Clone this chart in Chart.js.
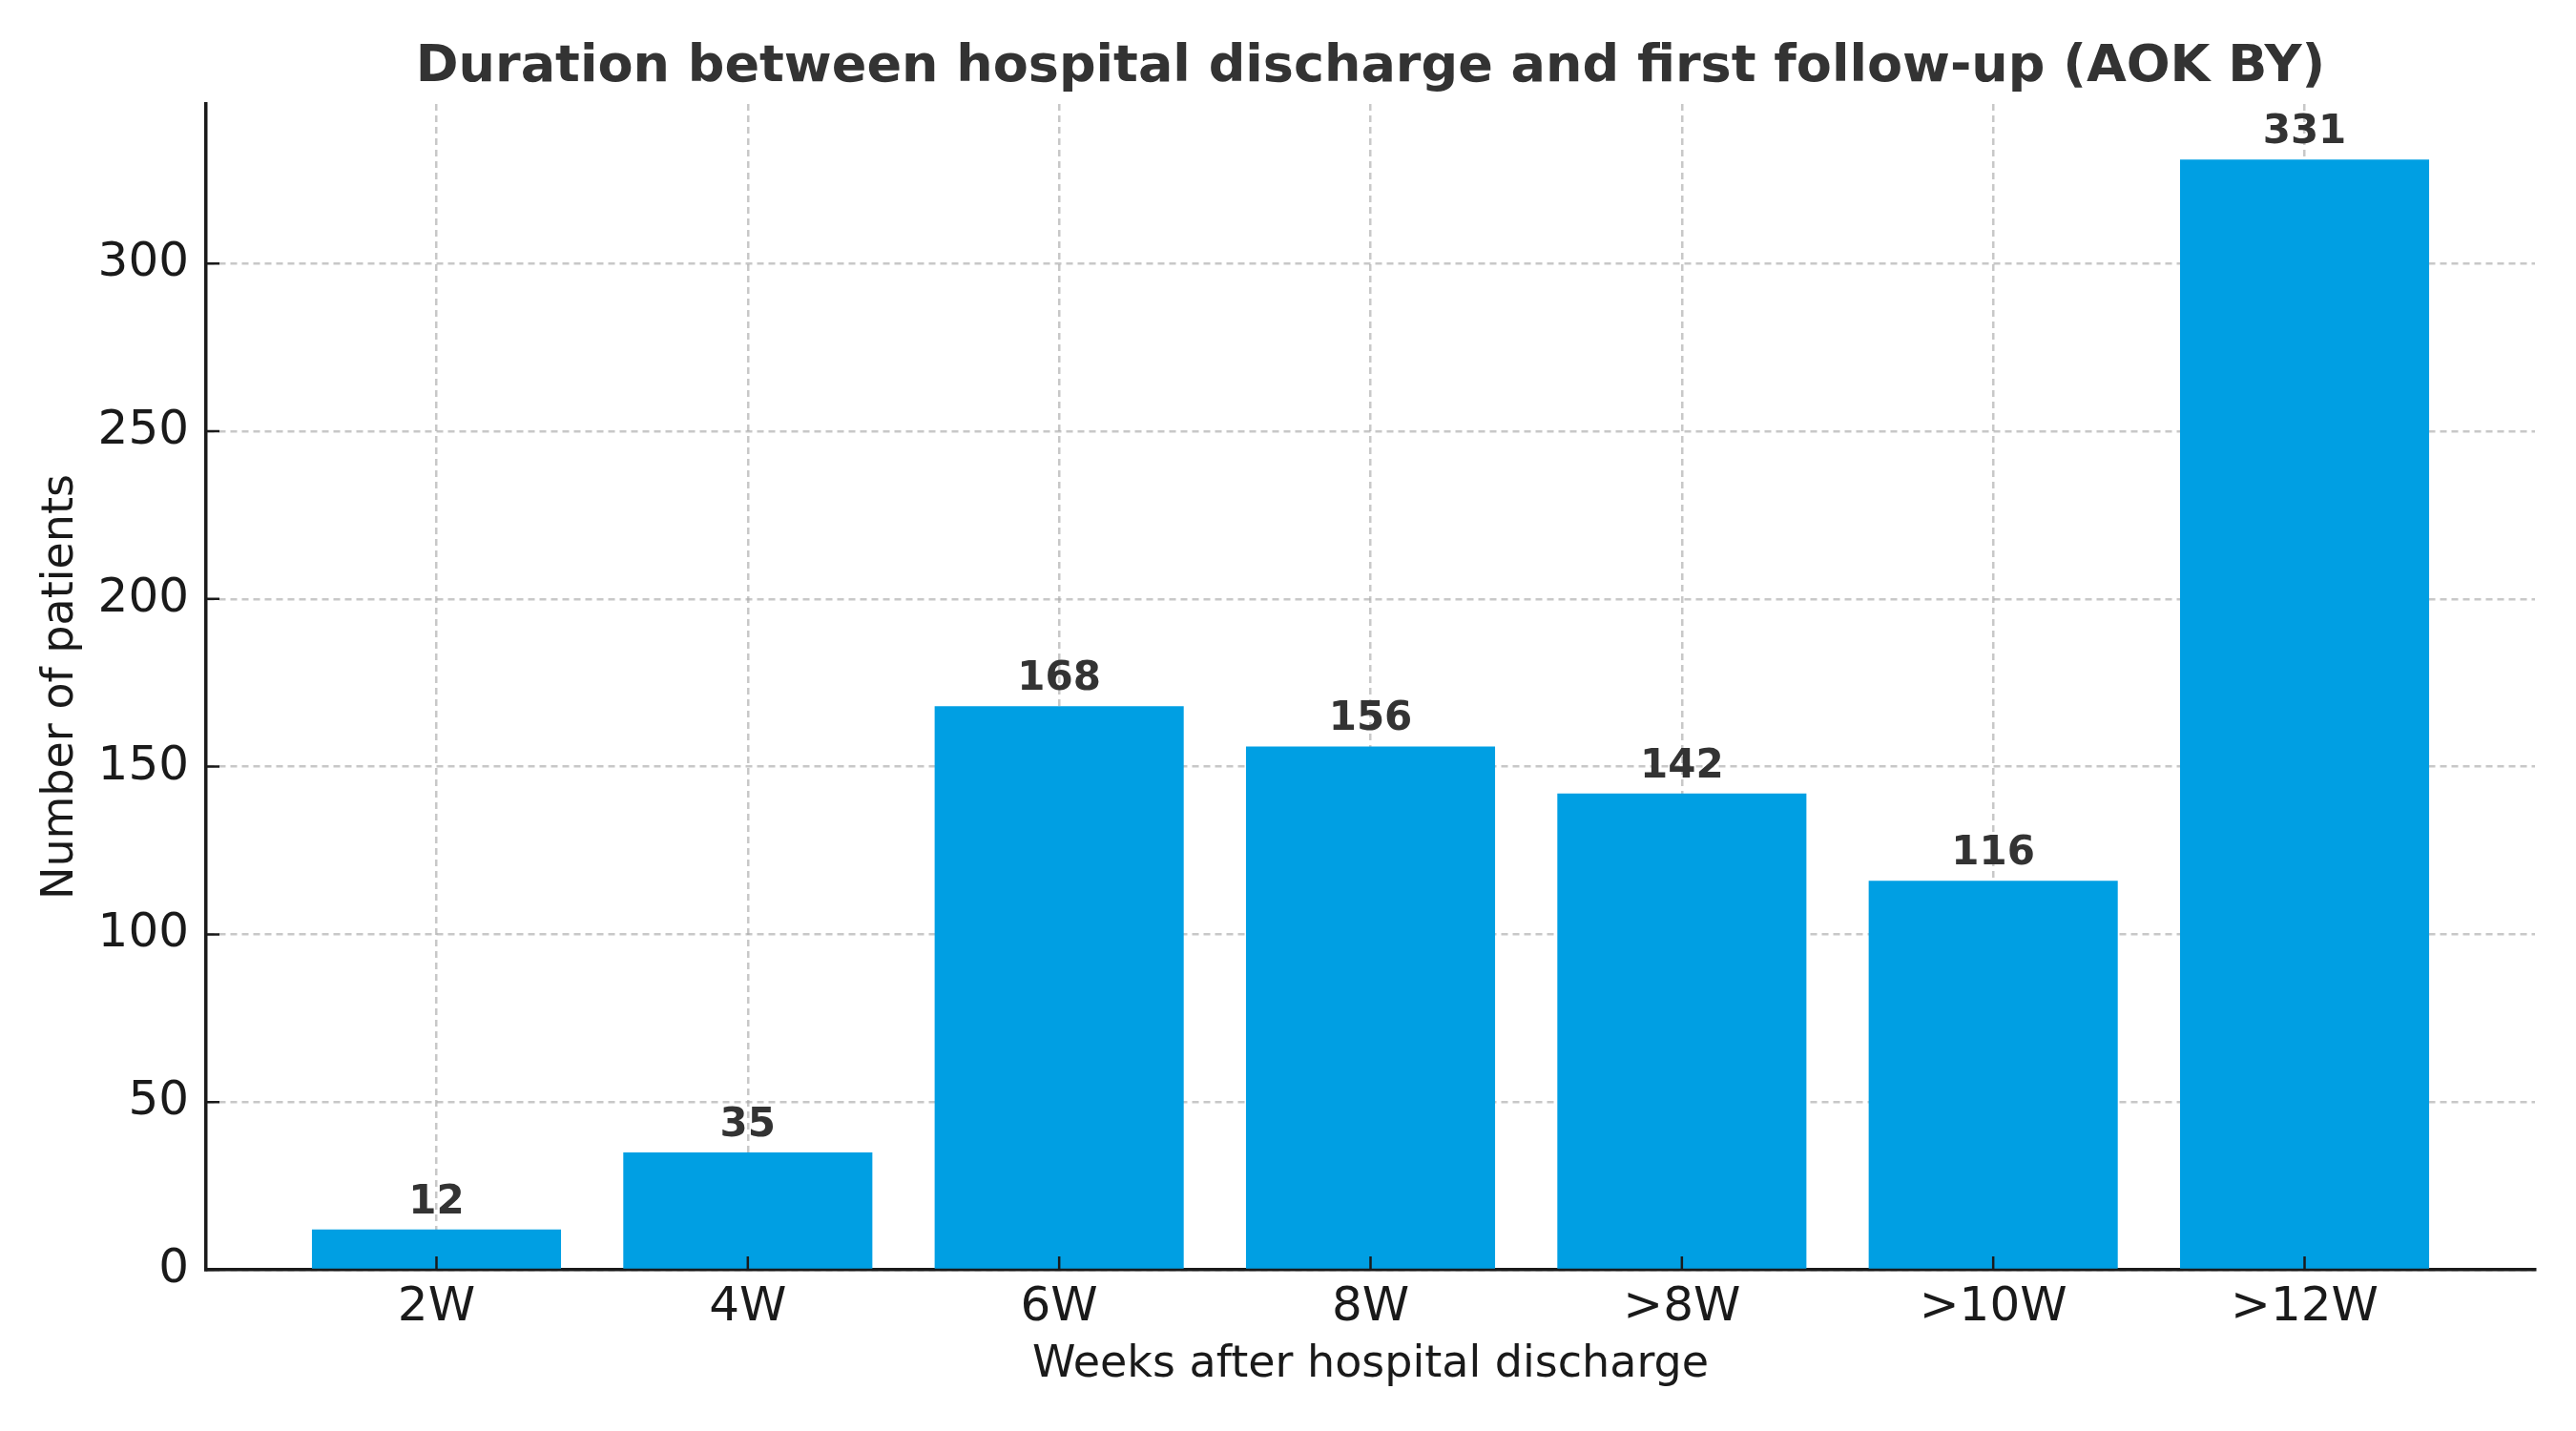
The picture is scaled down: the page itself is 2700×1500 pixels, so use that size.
<!DOCTYPE html>
<html>
<head>
<meta charset="utf-8">
<title>Duration between hospital discharge and first follow-up</title>
<script src="https://cdn.jsdelivr.net/npm/chart.js@4/dist/chart.umd.min.js"></script>
<style>
  html, body { margin: 0; padding: 0; background: #fff; }
  #chart { display: block; }
</style>
</head>
<body>
<canvas id="chart" width="2700" height="1500"></canvas>
<script>
// weeks after discharge -> number of patients
const categories = ["2W", "4W", "6W", "8W", ">8W", ">10W", ">12W"];
const patients = [12, 35, 168, 156, 142, 116, 331];
const yTicks = [0, 50, 100, 150, 200, 250, 300];
const title = "Duration between hospital discharge and first follow-up (AOK BY)";

const yMax = Math.max(...patients) * 1.05;   // matplotlib-style 5% headroom
const xPad = 0.74;                            // half bar + margin on each side

const FONT = "'DejaVu Sans', 'Liberation Sans', sans-serif";
const BAR = "#009fe3";
const INK = "#1a1a1a";
const GRID = "rgba(170,170,170,0.65)";

// title over the plot area, inward tick marks, bold value labels
const extras = {
  id: "extras",
  afterDraw(chart) {
    const { ctx, scales: { x, y }, chartArea: a } = chart;
    ctx.save();
    ctx.strokeStyle = INK;
    ctx.lineWidth = 2.5;
    ctx.beginPath();
    categories.forEach((c, i) => {
      const px = x.getPixelForValue(i);
      ctx.moveTo(px, a.bottom);
      ctx.lineTo(px, a.bottom - 14);
    });
    yTicks.forEach(v => {
      const py = y.getPixelForValue(v);
      ctx.moveTo(a.left, py);
      ctx.lineTo(a.left + 14, py);
    });
    ctx.stroke();

    ctx.textAlign = "center";
    ctx.textBaseline = "alphabetic";
    ctx.fillStyle = "#333333";
    ctx.font = `bold 54px ${FONT}`;
    ctx.fillText(title, (a.left + a.right) / 2, 85);

    ctx.font = `bold 42px ${FONT}`;
    chart.getDatasetMeta(0).data.forEach((bar, i) => {
      ctx.fillText(String(patients[i]), bar.x, bar.y - 17);
    });
    ctx.restore();
  }
};

new Chart(document.getElementById("chart"), {
  type: "bar",
  data: {
    datasets: [{
      data: patients.map((v, i) => ({ x: i, y: v })),
      backgroundColor: BAR,
      borderWidth: 0,
      barPercentage: 0.8,
      categoryPercentage: 1,
    }],
  },
  options: {
    responsive: false,
    animation: false,
    devicePixelRatio: 1,
    layout: { padding: { top: 109, right: 43, bottom: 0, left: 0 } },
    plugins: {
      legend: { display: false },
      tooltip: { enabled: false },
      title: { display: false },
    },
    scales: {
      x: {
        type: "linear",
        min: -xPad,
        max: categories.length - 1 + xPad,
        offset: false,
        z: 1,
        afterBuildTicks: ax => { ax.ticks = categories.map((c, i) => ({ value: i })); },
        afterFit: ax => { ax.height = 169; },
        ticks: {
          callback: v => categories[v] ?? "",
          color: INK,
          font: { family: FONT, size: 50 },
          padding: 10,
          maxRotation: 0,
          autoSkip: false,
        },
        grid: { color: GRID, lineWidth: 2.5, drawTicks: false, offset: false },
        border: { display: true, color: INK, width: 3.5, dash: [7, 5] },
        title: {
          display: true,
          text: "Weeks after hospital discharge",
          color: INK,
          font: { family: FONT, size: 46 },
          padding: { top: 0, bottom: 41 },
        },
      },
      y: {
        min: 0,
        max: yMax,
        z: 1,
        afterBuildTicks: ax => { ax.ticks = yTicks.map(v => ({ value: v })); },
        afterFit: ax => { ax.width = 216; },
        ticks: {
          color: INK,
          font: { family: FONT, size: 50 },
          padding: 18,
        },
        grid: { color: GRID, lineWidth: 2.5, drawTicks: false },
        border: { display: true, color: INK, width: 3.5, dash: [7, 5] },
        title: {
          display: true,
          text: "Number of patients",
          color: INK,
          font: { family: FONT, size: 46 },
          padding: { top: 36, bottom: 0 },
        },
      },
    },
  },
  plugins: [extras],
});
</script>
</body>
</html>
